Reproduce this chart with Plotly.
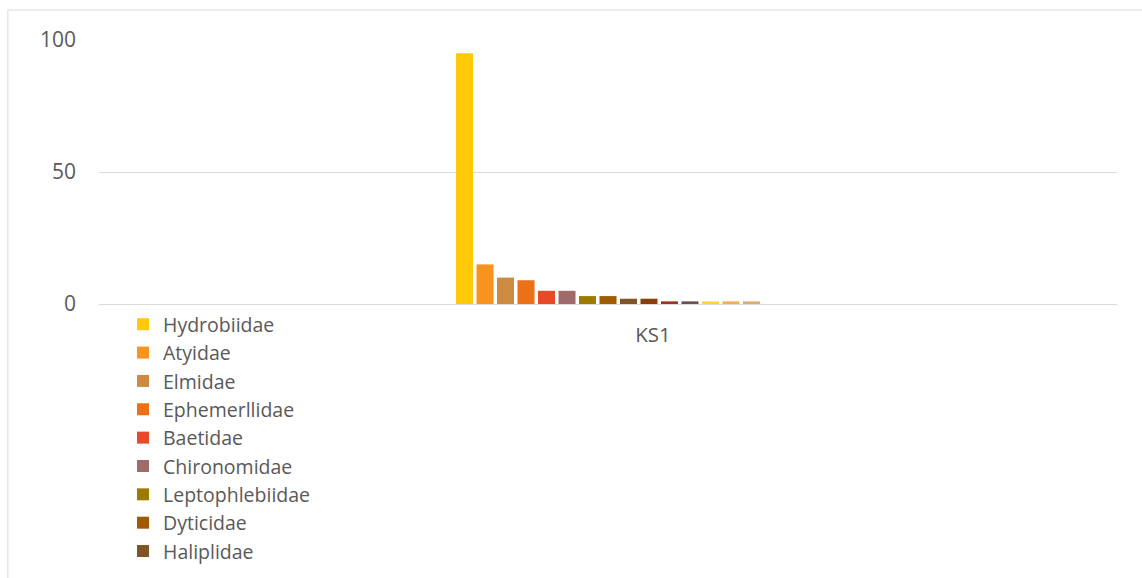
import plotly.graph_objects as go

categories = ["KS1"]
families = ["Hydrobiidae", "Atyidae", "Elmidae", "Ephemerllidae", "Baetidae",
            "Chironomidae", "Leptophlebiidae", "Dyticidae", "Haliplidae",
            "Gerridae", "Gomphidae", "Libellulidae", "Naucoridae", "Corixidae", "Tipulidae"]
values = [95, 15, 10, 9, 5, 5, 3, 3, 2, 2, 1, 1, 1, 1, 1]
colors = ["#FFC90A", "#F7931E", "#CC8B40", "#EC7017", "#E84A27", "#9E6A6A",
          "#9C7B00", "#A05A00", "#7F5526", "#8B3E0C", "#A4301E", "#6E4E52",
          "#FFD43B", "#F9AC50", "#DDAB72"]
legend_visible = 9

fig = go.Figure()
for i, (name, v, c) in enumerate(zip(families, values, colors)):
    fig.add_trace(go.Bar(
        x=categories, y=[v], name=name, marker_color=c, marker_line_width=0,
        showlegend=i < legend_visible, legendgroup=name,
    ))

fig.update_layout(
    width=1142, height=578,
    margin=dict(l=99, r=25, t=40, b=274, autoexpand=False),
    paper_bgcolor="white", plot_bgcolor="white",
    barmode="group", bargap=0.698, bargroupgap=0.17,
    font=dict(family="Open Sans, sans-serif", size=18, color="#595959"),
    legend=dict(x=0.0236, xanchor="left", y=-0.004, yanchor="top",
                font=dict(size=19.5, color="#595959"), tracegroupgap=0,
                bgcolor="rgba(0,0,0,0)", itemwidth=30),
    xaxis=dict(showgrid=False, showline=True, linecolor="#D9D9D9", linewidth=1,
               layer="above traces", ticks="", ticklabelshift=45, ticklabelstandoff=12,
               tickfont=dict(size=20.5, color="#595959")),
    yaxis=dict(range=[0, 100], tickvals=[0, 50, 100], showgrid=True,
               gridcolor="#D9D9D9", gridwidth=1, zeroline=False, showline=False,
               ticks="", ticklabelstandoff=22, tickfont=dict(size=21, color="#595959")),
    shapes=[dict(type="path", xref="paper", yref="paper",
                 path="M -0.0895,-1.1 L -0.0895,1.1136 L 1.03,1.1136",
                 line=dict(color="#D9D9D9", width=1))],
)

fig.write_html("out.html")
